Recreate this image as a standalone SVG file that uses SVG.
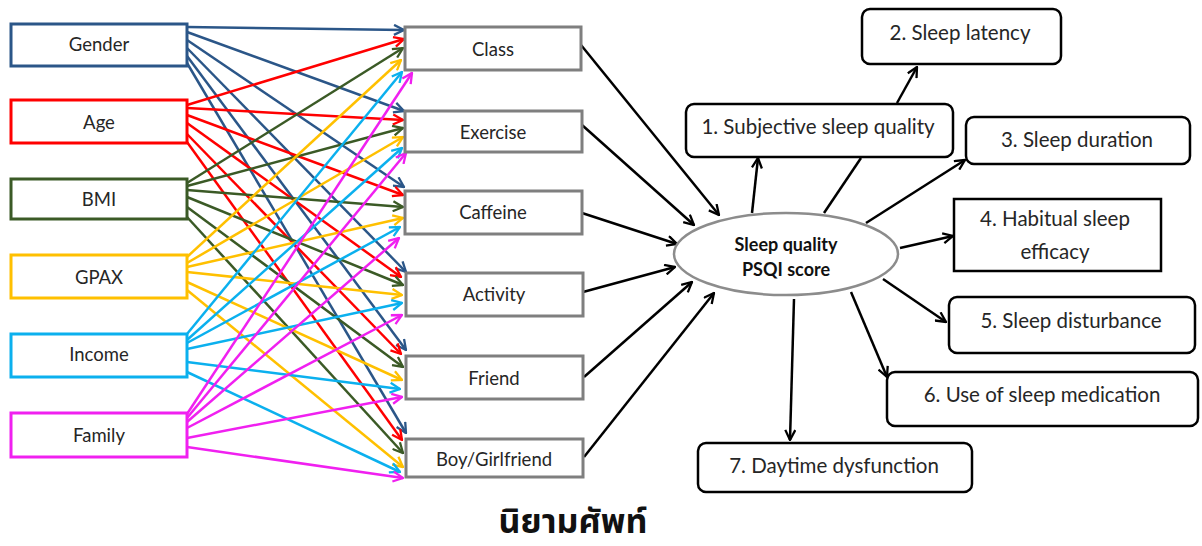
<svg xmlns="http://www.w3.org/2000/svg" width="1202" height="546" viewBox="0 0 1202 546">
<style>
.t{font-family:Lato,"Noto Sans","Liberation Sans",sans-serif;font-size:18.5px;fill:#262626;text-anchor:middle;dominant-baseline:central}
.tr{font-size:20.5px}
.tb{font-weight:bold;font-size:18px;fill:#111}
.lb{fill:#fff;stroke-width:3}
.mb{fill:#fff;stroke:#7f7f7f;stroke-width:3}
.rb{fill:#fff;stroke:#000;stroke-width:2.5}
.c{fill:none;stroke-width:2.5}
.k{stroke:#000;marker-end:url(#mk)}
.g{stroke:#2b5688;marker-end:url(#mg)}
.a{stroke:#ff0000;marker-end:url(#ma)}
.b{stroke:#3b5a26;marker-end:url(#mb)}
.p{stroke:#ffc000;marker-end:url(#mp)}
.i{stroke:#0bb0ee;marker-end:url(#mi)}
.f{stroke:#f020f0;marker-end:url(#mf)}
</style>
<defs>
<marker id="mk" viewBox="0 0 12 12" refX="11" refY="6" markerWidth="12" markerHeight="12" markerUnits="userSpaceOnUse" orient="auto"><path d="M1,1 L11,6 L1,11" fill="none" stroke="#000" stroke-width="2.3"/></marker>
<marker id="mg" viewBox="0 0 12 12" refX="11" refY="6" markerWidth="12" markerHeight="12" markerUnits="userSpaceOnUse" orient="auto"><path d="M1,1 L11,6 L1,11" fill="none" stroke="#2b5688" stroke-width="2.3"/></marker>
<marker id="ma" viewBox="0 0 12 12" refX="11" refY="6" markerWidth="12" markerHeight="12" markerUnits="userSpaceOnUse" orient="auto"><path d="M1,1 L11,6 L1,11" fill="none" stroke="#ff0000" stroke-width="2.3"/></marker>
<marker id="mb" viewBox="0 0 12 12" refX="11" refY="6" markerWidth="12" markerHeight="12" markerUnits="userSpaceOnUse" orient="auto"><path d="M1,1 L11,6 L1,11" fill="none" stroke="#3b5a26" stroke-width="2.3"/></marker>
<marker id="mp" viewBox="0 0 12 12" refX="11" refY="6" markerWidth="12" markerHeight="12" markerUnits="userSpaceOnUse" orient="auto"><path d="M1,1 L11,6 L1,11" fill="none" stroke="#ffc000" stroke-width="2.3"/></marker>
<marker id="mi" viewBox="0 0 12 12" refX="11" refY="6" markerWidth="12" markerHeight="12" markerUnits="userSpaceOnUse" orient="auto"><path d="M1,1 L11,6 L1,11" fill="none" stroke="#0bb0ee" stroke-width="2.3"/></marker>
<marker id="mf" viewBox="0 0 12 12" refX="11" refY="6" markerWidth="12" markerHeight="12" markerUnits="userSpaceOnUse" orient="auto"><path d="M1,1 L11,6 L1,11" fill="none" stroke="#f020f0" stroke-width="2.3"/></marker>
</defs>
<rect width="1202" height="546" fill="#fff"/>

<g id="connectors">
<g class="c">
<!-- Gender -->
<line class="g" x1="187" y1="27" x2="404" y2="30"/>
<line class="g" x1="187" y1="32" x2="404" y2="111"/>
<line class="g" x1="187" y1="40" x2="404" y2="187"/>
<line class="g" x1="187" y1="48" x2="406" y2="272"/>
<line class="g" x1="187" y1="56" x2="406" y2="350"/>
<line class="g" x1="187" y1="63" x2="406" y2="433"/>
<!-- Age -->
<line class="a" x1="187" y1="105" x2="404" y2="39"/>
<line class="a" x1="187" y1="108" x2="403" y2="120"/>
<line class="a" x1="187" y1="115" x2="403" y2="195"/>
<line class="a" x1="187" y1="123" x2="401" y2="277"/>
<line class="a" x1="187" y1="134" x2="401" y2="354"/>
<line class="a" x1="187" y1="142" x2="402" y2="440"/>
<!-- BMI -->
<line class="b" x1="187" y1="183" x2="403" y2="48"/>
<line class="b" x1="187" y1="186" x2="403" y2="128"/>
<line class="b" x1="187" y1="190" x2="403" y2="207"/>
<line class="b" x1="187" y1="197" x2="403" y2="285"/>
<line class="b" x1="187" y1="207" x2="403" y2="367"/>
<line class="b" x1="187" y1="217" x2="403" y2="453"/>
<!-- GPAX -->
<line class="p" x1="187" y1="257" x2="401" y2="60"/>
<line class="p" x1="187" y1="263" x2="403" y2="137"/>
<line class="p" x1="187" y1="267" x2="403" y2="218"/>
<line class="p" x1="187" y1="272" x2="402" y2="295"/>
<line class="p" x1="187" y1="282" x2="402" y2="380"/>
<line class="p" x1="187" y1="290" x2="403" y2="467"/>
<!-- Income -->
<line class="i" x1="187" y1="334" x2="402" y2="72"/>
<line class="i" x1="187" y1="340" x2="402" y2="148"/>
<line class="i" x1="187" y1="343" x2="400" y2="227"/>
<line class="i" x1="187" y1="349" x2="402" y2="303"/>
<line class="i" x1="187" y1="362" x2="400" y2="389"/>
<line class="i" x1="187" y1="372" x2="400" y2="472"/>
<!-- Family -->
<line class="f" x1="187" y1="414" x2="412" y2="73"/>
<line class="f" x1="187" y1="418" x2="406" y2="153"/>
<line class="f" x1="187" y1="422" x2="399" y2="238"/>
<line class="f" x1="187" y1="428" x2="402" y2="315"/>
<line class="f" x1="187" y1="438" x2="402" y2="397"/>
<line class="f" x1="187" y1="447" x2="403" y2="478"/>
<!-- middle to ellipse -->
<line class="k" x1="581" y1="45" x2="719" y2="215"/>
<line class="k" x1="582" y1="125" x2="694" y2="225"/>
<line class="k" x1="582" y1="213" x2="677" y2="244"/>
<line class="k" x1="583" y1="292" x2="675" y2="267"/>
<line class="k" x1="584" y1="377" x2="692" y2="282"/>
<line class="k" x1="584" y1="457" x2="714" y2="293"/>
<!-- ellipse to outcomes -->
<line class="k" x1="752" y1="213" x2="758" y2="158"/>
<line stroke="#000" x1="824" y1="213" x2="861" y2="158"/>
<line class="k" x1="897" y1="103" x2="917" y2="67"/>
<line class="k" x1="866" y1="223" x2="965" y2="160"/>
<line class="k" x1="900" y1="248" x2="953" y2="236"/>
<line class="k" x1="883" y1="279" x2="946" y2="322"/>
<line class="k" x1="851" y1="292" x2="887" y2="377"/>
<line class="k" x1="794" y1="299" x2="790" y2="440"/>
</g>
</g>

<g id="gender"><rect class="lb" x="11" y="24" width="176" height="42" stroke="#2b5688"/><text class="t" x="99" y="44">Gender</text></g>
<g id="age"><rect class="lb" x="11" y="100" width="176" height="43" stroke="#ff0000"/><text class="t" x="99" y="122">Age</text></g>
<g id="bmi"><rect class="lb" x="11" y="179" width="176" height="40" stroke="#3b5a26"/><text class="t" x="99" y="199">BMI</text></g>
<g id="gpax"><rect class="lb" x="11" y="255" width="176" height="43" stroke="#ffc000"/><text class="t" x="99" y="277">GPAX</text></g>
<g id="income"><rect class="lb" x="11" y="334" width="176" height="43" stroke="#0bb0ee"/><text class="t" x="99" y="354">Income</text></g>
<g id="family"><rect class="lb" x="11" y="413" width="176" height="44" stroke="#f020f0"/><text class="t" x="99" y="435">Family</text></g>

<g id="class"><rect class="mb" x="405" y="27" width="176" height="43"/><text class="t" x="493" y="49">Class</text></g>
<g id="exercise"><rect class="mb" x="405" y="111" width="177" height="41"/><text class="t" x="493" y="132">Exercise</text></g>
<g id="caffeine"><rect class="mb" x="405" y="191" width="177" height="43"/><text class="t" x="493" y="212">Caffeine</text></g>
<g id="activity"><rect class="mb" x="406" y="273" width="177" height="43"/><text class="t" x="494" y="294">Activity</text></g>
<g id="friend"><rect class="mb" x="406" y="356" width="177" height="43"/><text class="t" x="494" y="378">Friend</text></g>
<g id="boygirlfriend"><rect class="mb" x="406" y="439" width="177" height="38"/><text class="t" x="494" y="459">Boy/Girlfriend</text></g>

<g id="psqi"><ellipse cx="786" cy="254" rx="112" ry="41" fill="#fff" stroke="#8c8c8c" stroke-width="2.5"/><text class="t tb" x="786" y="244">Sleep quality</text><text class="t tb" x="786" y="269">PSQI score</text></g>

<g id="c1"><rect class="rb" x="686" y="104" width="267" height="53" rx="8"/><text class="t tr" x="818" y="126">1. Subjective sleep quality</text></g>
<g id="c2"><rect class="rb" x="862" y="9" width="199" height="55" rx="8"/><text class="t tr" x="960" y="32">2. Sleep latency</text></g>
<g id="c3"><rect class="rb" x="966" y="117" width="224" height="47" rx="8"/><text class="t tr" x="1077" y="139">3. Sleep duration</text></g>
<g id="c4"><rect class="rb" x="954" y="199" width="207" height="72"/><text class="t tr" x="1055" y="218">4. Habitual sleep</text><text class="t tr" x="1055" y="251">efficacy</text></g>
<g id="c5"><rect class="rb" x="949" y="297" width="246" height="56" rx="8"/><text class="t tr" x="1071" y="320">5. Sleep disturbance</text></g>
<g id="c6"><rect class="rb" x="887" y="372" width="311" height="54" rx="8"/><text class="t tr" x="1042" y="394">6. Use of sleep medication</text></g>
<g id="c7"><rect class="rb" x="698" y="443" width="274" height="49" rx="8"/><text class="t tr" x="834" y="465">7. Daytime dysfunction</text></g>

<text x="573" y="533" font-family="'Noto Sans Thai','Noto Sans','DejaVu Sans',sans-serif" font-size="34" font-weight="bold" fill="#111" text-anchor="middle">นิยามศัพท์</text>
</svg>
